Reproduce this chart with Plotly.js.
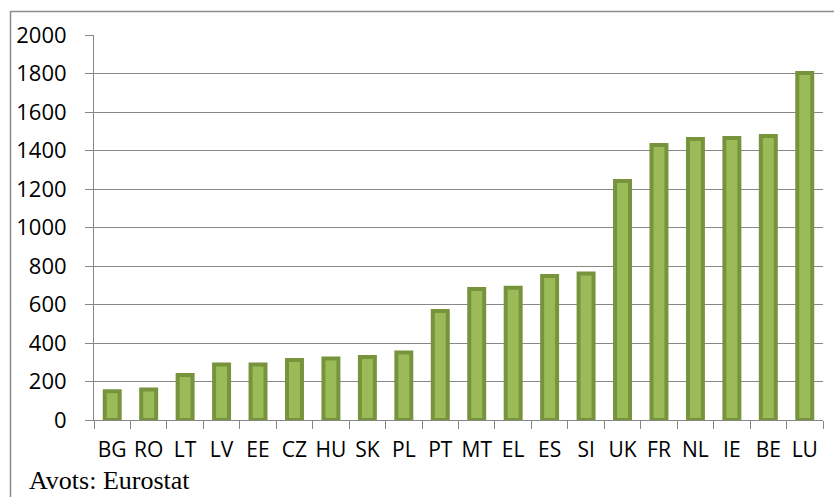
<!DOCTYPE html>
<html>
<head>
<meta charset="utf-8">
<script src="https://cdn.plot.ly/plotly-3.0.1.min.js"></script>
<style>
html,body{margin:0;padding:0;background:#fff;}
#chart{width:834px;height:497px;}
</style>
</head>
<body>
<div id="chart"></div>
<script>
const countries = ["BG","RO","LT","LV","EE","CZ","HU","SK","PL","PT","MT","EL","ES","SI","UK","FR","NL","IE","BE","LU"];
const values = [150,158,234,288,288,312,320,327,351,566,680,687,748,761,1242,1429,1460,1465,1475,1803];
const yTicks = [0,200,400,600,800,1000,1200,1400,1600,1800,2000];
const sourceText = "Avots: Eurostat";

const gridColor = "#878787";

const trace = {
  type: "bar",
  x: countries,
  y: values,
  width: 0.41,
  marker: {color: "#9BBB59", line: {color: "#77933C", width: 4}},
  hoverinfo: "x+y"
};

const layout = {
  width: 834, height: 497,
  margin: {l: 94, r: 11, t: 35, b: 77, pad: 0},
  paper_bgcolor: "#ffffff",
  plot_bgcolor: "#ffffff",
  showlegend: false,
  font: {family: "Open Sans, sans-serif", size: 22, color: "#000000"},
  xaxis: {
    type: "category",
    tickson: "boundaries",
    tickangle: 0,
    ticks: "outside", ticklen: 8, tickwidth: 1, tickcolor: gridColor,
    showline: true, linecolor: gridColor, linewidth: 1,
    showgrid: false, zeroline: false,
    ticklabelstandoff: 11,
    tickfont: {family: "Open Sans, sans-serif", size: 21, color: "#000"}
  },
  yaxis: {
    range: [0, 2000],
    tickmode: "array", tickvals: yTicks, ticktext: yTicks.map(String),
    ticks: "outside", ticklen: 8, tickwidth: 1, tickcolor: gridColor,
    showline: true, linecolor: gridColor, linewidth: 1,
    showgrid: true, gridcolor: gridColor, gridwidth: 1,
    zeroline: false,
    ticklabelstandoff: 14,
    tickfont: {family: "Open Sans, sans-serif", size: 22, color: "#000"}
  },
  shapes: [{
    type: "rect", xref: "paper", yref: "paper",
    x0: (10.5 - 94) / 729, x1: (840 - 94) / 729,
    y0: -(510 - 420) / 385, y1: 1 + (35 - 11.5) / 385,
    line: {color: "#8c8c8c", width: 1.5}, fillcolor: "rgba(0,0,0,0)", layer: "below"
  }],
  annotations: [{
    text: sourceText, xref: "paper", yref: "paper",
    x: (29 - 94) / 729, xanchor: "left",
    y: -(480.5 - 420) / 385, yanchor: "middle",
    showarrow: false, borderpad: 0, borderwidth: 0,
    font: {family: "Liberation Serif, Times New Roman, serif", size: 26, color: "#000"}
  }]
};

Plotly.newPlot("chart", [trace], layout, {displayModeBar: false, staticPlot: true});
</script>
</body>
</html>
